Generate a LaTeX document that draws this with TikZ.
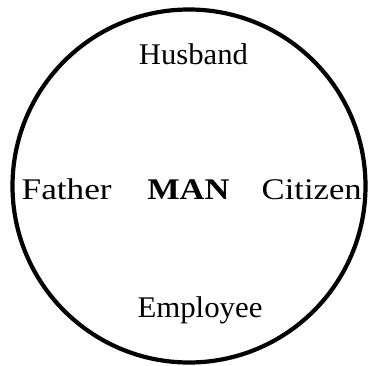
\documentclass[tikz,border=0pt]{standalone}
\usepackage{fontspec}
\setmainfont{Liberation Serif}
\newcommand{\wbox}[2]{\resizebox{#1}{\height}{#2}}
\begin{document}
\begin{tikzpicture}[x=1pt,y=-1pt,
  lbl/.style={anchor=base,inner sep=0pt,font=\fontsize{30}{34}\selectfont},
  ring/.style={circle,draw=black,line width=4.2pt,minimum size=353pt,inner sep=0pt}]
\useasboundingbox (0,0) rectangle (369,366);
\node[ring] (circ) at (189,186) {};
\node[lbl] (husband) at (193.5,65) {\wbox{109pt}{Husband}};
\node[lbl] (father) at (66.7,199) {\wbox{90pt}{Father}};
\node[lbl] (man) at (188.3,199) {\wbox{82pt}{\bfseries MAN}};
\node[lbl] (citizen) at (311.7,199) {\wbox{100pt}{Citizen}};
\node[lbl] (employee) at (200,317) {\wbox{125pt}{Employee}};
\end{tikzpicture}
\end{document}
